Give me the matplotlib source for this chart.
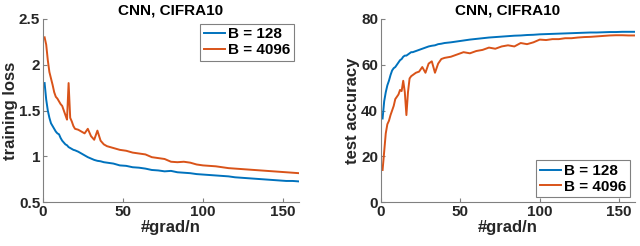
import matplotlib.pyplot as plt

x = [1, 2, 3, 4, 5, 6, 7, 8, 9, 10, 11, 12, 13, 14, 15, 16, 17, 18, 19, 20,
     22, 24, 26, 28, 30, 32, 34, 36, 38, 40,
     44, 48, 52, 56, 60, 64, 68, 72, 76, 80, 84, 88, 92, 96, 100,
     104, 108, 112, 116, 120, 124, 128, 132, 136, 140, 144, 148, 152, 156, 160]

loss_128 = [1.80, 1.62, 1.50, 1.42, 1.36, 1.33, 1.30, 1.27, 1.25, 1.24,
            1.20, 1.17, 1.15, 1.13, 1.12, 1.10, 1.09, 1.08, 1.07, 1.065,
            1.05, 1.03, 1.01, 0.99, 0.975, 0.96, 0.95, 0.945, 0.935, 0.93,
            0.92, 0.90, 0.895, 0.88, 0.875, 0.865, 0.85, 0.845, 0.835, 0.84,
            0.825, 0.82, 0.815, 0.805, 0.80, 0.795, 0.79, 0.785, 0.78, 0.77,
            0.765, 0.76, 0.755, 0.75, 0.745, 0.74, 0.735, 0.73, 0.73, 0.725]

loss_4096 = [2.30, 2.22, 2.05, 1.92, 1.85, 1.78, 1.70, 1.65, 1.63, 1.60,
             1.57, 1.55, 1.50, 1.45, 1.40, 1.80, 1.42, 1.38, 1.33, 1.30,
             1.29, 1.27, 1.25, 1.30, 1.22, 1.18, 1.28, 1.17, 1.13, 1.11,
             1.09, 1.07, 1.06, 1.04, 1.03, 1.02, 0.99, 0.98, 0.97, 0.94,
             0.935, 0.94, 0.93, 0.91, 0.90, 0.895, 0.89, 0.88, 0.87, 0.865,
             0.86, 0.855, 0.85, 0.845, 0.84, 0.835, 0.83, 0.825, 0.82, 0.815]

acc_128 = [36.5, 44, 48, 51, 53, 55.5, 57.5, 58.5, 59, 60,
           61, 62, 62.5, 63.5, 64, 64, 64.5, 65, 65.5, 65.5,
           66, 66.5, 67, 67.5, 68, 68.3, 68.5, 69, 69.2, 69.5,
           69.8, 70.2, 70.6, 71.0, 71.3, 71.6, 71.9, 72.1, 72.3, 72.5,
           72.7, 72.8, 73.0, 73.1, 73.3, 73.4, 73.5, 73.6, 73.7, 73.8,
           73.9, 74.0, 74.1, 74.1, 74.2, 74.3, 74.3, 74.4, 74.4, 74.4]

acc_4096 = [14, 22, 30, 34, 35.5, 38, 40, 42, 45, 46,
            47, 49, 48.5, 53, 48, 38, 48, 54, 55, 55.5,
            56.5, 57, 59, 56.5, 60.5, 61.5, 56.5, 60.5, 62.5, 63,
            63.5, 64.5, 65.5, 65, 66, 66.5, 67.5, 67, 68, 68.5,
            68, 69.5, 69, 69.8, 71, 70.8, 71.2, 71.2, 71.6, 71.6,
            71.9, 72.1, 72.2, 72.4, 72.6, 72.8, 72.9, 72.9, 72.8, 72.8]

labels = ['B = 128', 'B = 4096']
colors = ['#0072BD', '#D95319']

plt.rcParams['font.family'] = ['Liberation Sans', 'DejaVu Sans']
plt.rcParams['font.weight'] = 'bold'

fig = plt.figure(figsize=(6.4, 2.46), dpi=100)
ax1 = fig.add_axes([43 / 640, 1 - 202 / 246, 256 / 640, 183 / 246])
ax2 = fig.add_axes([381 / 640, 1 - 202 / 246, 254 / 640, 183 / 246])


def style_axes(ax):
    for side in ['top', 'right']:
        ax.spines[side].set_visible(False)
    for side in ['left', 'bottom']:
        ax.spines[side].set_color('#808080')
        ax.spines[side].set_linewidth(0.8)
    ax.tick_params(direction='in', length=3, color='#808080',
                   labelsize=11, labelcolor='#262626', pad=2)
    for lbl in ax.get_xticklabels() + ax.get_yticklabels():
        lbl.set_fontweight('bold')
    ax.set_xlim(0, 160)
    ax.set_xticks([0, 50, 100, 150])
    ax.set_xlabel('#grad/n', fontsize=12, color='#262626', labelpad=1,
                  fontweight='bold')
    ax.set_title('CNN, CIFRA10', fontsize=11, fontweight='bold', pad=3)


ax1.plot(x, loss_128, color=colors[0], lw=1.4, label=labels[0])
ax1.plot(x, loss_4096, color=colors[1], lw=1.4, label=labels[1])
ax1.set_ylim(0.5, 2.5)
ax1.set_yticks([0.5, 1, 1.5, 2, 2.5])
ax1.set_yticklabels(['0.5', '1', '1.5', '2', '2.5'])
ax1.set_ylabel('training loss', fontsize=12, color='#262626', labelpad=1,
               fontweight='bold')
style_axes(ax1)

ax2.plot(x, acc_128, color=colors[0], lw=1.4, label=labels[0])
ax2.plot(x, acc_4096, color=colors[1], lw=1.4, label=labels[1])
ax2.set_ylim(0, 80)
ax2.set_yticks([0, 20, 40, 60, 80])
ax2.set_ylabel('test accuracy', fontsize=12, color='#262626', labelpad=1,
               fontweight='bold')
style_axes(ax2)

for ax, loc in [(ax1, 'upper right'), (ax2, 'lower right')]:
    leg = ax.legend(loc=loc, fontsize=11, handlelength=1.4, handletextpad=0.2,
                    borderpad=0.25, labelspacing=0.1, fancybox=False,
                    framealpha=1, borderaxespad=0.3)
    leg.get_frame().set_edgecolor('#808080')
    leg.get_frame().set_linewidth(0.8)
    for t in leg.get_texts():
        t.set_fontweight('bold')

fig.savefig('out.png', dpi=100)
